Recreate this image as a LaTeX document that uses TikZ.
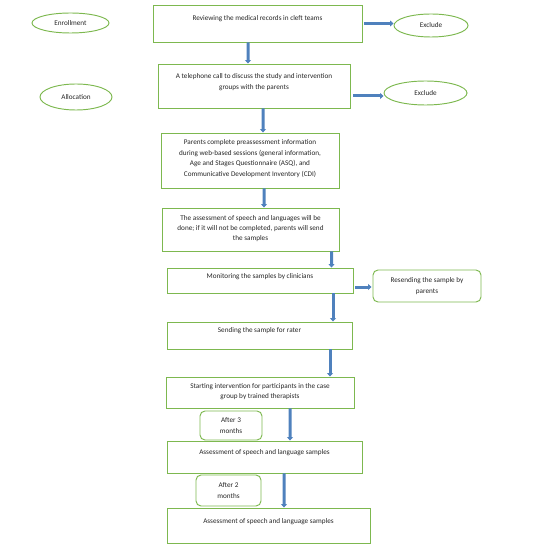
\documentclass[tikz,border=0pt]{standalone}
\usepackage{fontspec}
\setmainfont{Carlito}
\usetikzlibrary{shapes.geometric,arrows.meta}
\definecolor{boxgreen}{HTML}{7DB84F}
\definecolor{flowblue}{HTML}{4F81BD}
\tikzset{
  every node/.style={font=\fontsize{7.2bp}{10.4bp}\selectfont, text=black!85},
  stepbox/.style={draw=boxgreen, line width=0.95bp, rectangle, inner sep=0pt},
  roundbox/.style={draw=boxgreen, line width=0.95bp, rectangle, rounded corners=5bp, inner sep=0pt, align=center},
  oval/.style={draw=boxgreen, line width=0.95bp, ellipse, inner sep=0pt},
  txt/.style={align=center, inner sep=0pt},
  flow/.style={draw=flowblue, line width=3bp, -{Triangle[width=6bp,length=3.5bp]}}
}
\begin{document}
\begin{tikzpicture}[x=1bp,y=1bp]
\useasboundingbox (0,0) rectangle (538,-547);
% ellipses
\node[oval, minimum width=77bp, minimum height=20bp] (enr) at (70.5,-23) {Enrollment};
\node[oval, minimum width=74bp, minimum height=23bp] (ex1) at (431,-25.5) {Exclude};
\node[oval, minimum width=72bp, minimum height=26bp] (alloc) at (76,-97) {Allocation};
\node[oval, minimum width=83bp, minimum height=24bp] (ex2) at (425.5,-93) {Exclude};
% boxes
\node[stepbox, minimum width=209bp, minimum height=37bp] (b1) at (257.5,-23.5) {};
\node[txt] (t1) at (257.5,-19) {Reviewing the medical records in cleft teams};
\node[stepbox, minimum width=192bp, minimum height=44bp] (b2) at (254,-86) {};
\node[txt] (t2) at (254,-82) {A telephone call to discuss the study and intervention\\groups with the parents};
\node[stepbox, minimum width=178bp, minimum height=55bp] (b3) at (250,-160.5) {};
\node[txt] (t3) at (250,-158.5) {Parents complete preassessment information\\during web-based sessions (general information,\\Age and Stages Questionnaire (ASQ), and\\Communicative Development Inventory (CDI)};
\node[stepbox, minimum width=177bp, minimum height=43bp] (b4) at (250.5,-229.5) {};
\node[txt] (t4) at (250.5,-228.5) {The assessment of speech and languages will be\\done; if it will not be completed, parents will send\\the samples};
\node[stepbox, minimum width=186bp, minimum height=25bp] (b5) at (260,-280.5) {};
\node[txt] (t5) at (260,-277) {Monitoring\ the samples by clinicians};
\node[roundbox, minimum width=108bp, minimum height=32bp] (res) at (427,-286) {Resending the sample by\\parents};
\node[stepbox, minimum width=185bp, minimum height=27bp] (b6) at (259.5,-335.5) {};
\node[txt] (t6) at (259.5,-331) {Sending the sample for rater};
\node[stepbox, minimum width=188bp, minimum height=31bp] (b7) at (260,-392.5) {};
\node[txt] (t7) at (260,-391.5) {Starting intervention for participants in the case\\group by trained therapists};
\node[roundbox, minimum width=62bp, minimum height=29bp] (af3) at (231,-425.5) {After 3\\months};
\node[stepbox, minimum width=195bp, minimum height=32bp] (b8) at (264.5,-457) {};
\node[txt] (t8) at (264.5,-453) {Assessment of speech and language samples};
\node[roundbox, minimum width=65bp, minimum height=31bp] (af2) at (228.5,-490.5) {After 2\\months};
\node[stepbox, minimum width=203bp, minimum height=35bp] (b9) at (268.5,-525.5) {};
\node[txt] (t9) at (268.5,-522) {Assessment of speech and language samples};
% vertical arrows
\draw[flow] ([xshift=-9.5bp]b1.south) -- ([xshift=-6bp]b2.north);
\draw[flow] ([xshift=9bp]b2.south) -- ([xshift=13bp]b3.north);
\draw[flow] ([xshift=14bp]b3.south) -- ([xshift=13.5bp]b4.north);
\draw[flow] ([xshift=81bp]b4.south) -- ([xshift=71.5bp]b5.north);
\draw[flow] ([xshift=73bp]b5.south) -- ([xshift=73.5bp]b6.north);
\draw[flow] ([xshift=70.5bp]b6.south) -- ([xshift=70bp]b7.north);
\draw[flow] ([xshift=30bp]b7.south) -- ([xshift=25.5bp]b8.north);
\draw[flow] ([xshift=19.5bp]b8.south) -- ([xshift=15.5bp]b9.north);
% horizontal arrows
\draw[flow] ([xshift=2bp]b1.east) coordinate (r1) -- (r1 -| ex1.west);
\draw[flow] ([xshift=3bp,yshift=-10bp]b2.east) coordinate (r2) -- (r2 -| ex2.west);
\draw[flow] ([xshift=2bp,yshift=-6.5bp]b5.east) coordinate (r3) -- ([xshift=-1bp]r3 -| res.west);
\end{tikzpicture}
\end{document}
